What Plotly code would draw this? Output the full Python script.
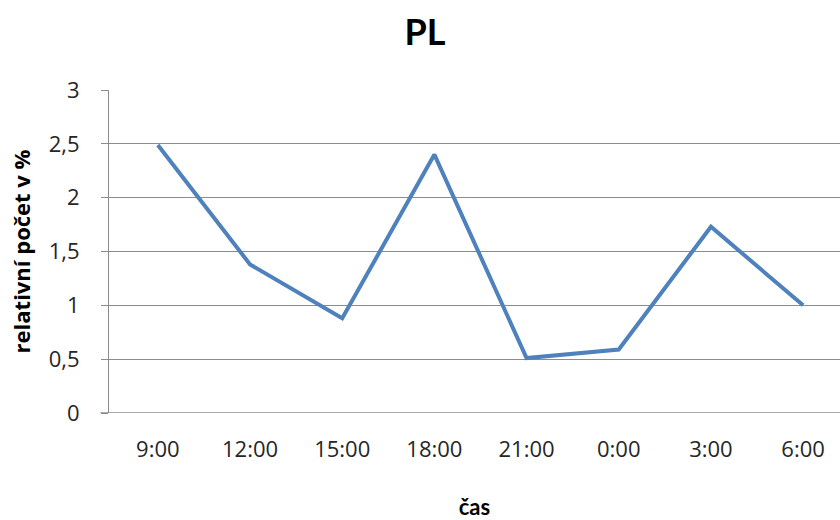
import plotly.graph_objects as go

# Hourly time slots and relative counts (%)
times = ["9:00", "12:00", "15:00", "18:00", "21:00", "0:00", "3:00", "6:00"]
values = [2.49, 1.38, 0.88, 2.40, 0.51, 0.59, 1.73, 1.00]
y_ticks = [0, 0.5, 1, 1.5, 2, 2.5, 3]
y_tick_labels = ["0", "0,5", "1", "1,5", "2", "2,5", "3"]

title_font = "Lato, Open Sans, sans-serif"
label_font = "Open Sans, Lato, sans-serif"
grid_color = "#8c8c8c"
text_color = "#262626"

fig = go.Figure()
fig.add_trace(go.Scatter(
    x=list(range(len(times))),
    y=values,
    mode="lines",
    line=dict(color="#4f81bd", width=4),
    hoverinfo="skip",
))

fig.update_layout(
    width=840,
    height=520,
    margin=dict(l=109, r=0, t=90, b=107),
    paper_bgcolor="white",
    plot_bgcolor="white",
    showlegend=False,
    font=dict(family=label_font, color=text_color),
    title=dict(
        text="<b>PL</b>",
        x=425 / 840,
        xanchor="center",
        xref="container",
        y=1 - 32 / 520,
        yanchor="middle",
        yref="container",
        font=dict(size=36, family=title_font, color="#000000"),
    ),
)

fig.update_xaxes(
    tickmode="array",
    tickvals=list(range(len(times))),
    ticktext=times,
    range=[-0.53, 7.4],
    showgrid=False,
    zeroline=False,
    showline=False,
    ticks="",
    ticklabelstandoff=21,
    tickfont=dict(size=22, family=label_font, color=text_color),
    title=dict(text="<b>čas</b>", font=dict(size=22, family=title_font, color="#000000"), standoff=39),
)
fig.update_yaxes(
    range=[0, 3],
    tickmode="array",
    tickvals=y_ticks,
    ticktext=y_tick_labels,
    showgrid=True,
    gridcolor=grid_color,
    gridwidth=1,
    zeroline=False,
    showline=True,
    linecolor=grid_color,
    linewidth=1,
    ticks="outside",
    ticklen=7,
    tickcolor=grid_color,
    ticklabelstandoff=17,
    tickfont=dict(size=22, family=label_font, color=text_color),
    title=dict(text="<b>relativní počet v %</b>", font=dict(size=22, family=label_font, color="#000000"), standoff=12),
)

# Horizontal baseline at zero, extending slightly left like the tick marks
fig.add_shape(type="line", xref="paper", yref="y", x0=-0.012, x1=1, y0=0, y1=0,
              line=dict(color=grid_color, width=1.5))

fig.write_html("out.html")
